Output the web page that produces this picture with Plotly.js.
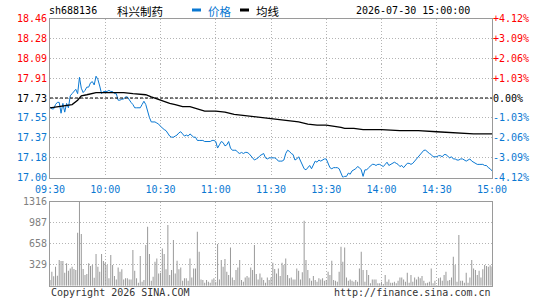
<!DOCTYPE html>
<html><head><meta charset="utf-8">
<script src="https://cdn.plot.ly/plotly-3.0.1.min.js"></script>
<style>html,body{margin:0;padding:0;background:#fff;}#chart{width:545px;height:300px;}</style>
</head><body><div id="chart"></div>
<script>
// ---- data ----
const stockCode = "sh688136";
const stockName = "科兴制药";
const dateTime = "2026-07-30 15:00:00";
const prevClose = 17.73;
const pctTicks = [-4.12, -3.09, -2.06, -1.03, 0, 1.03, 2.06, 3.09, 4.12];
const priceTickLabels = ["17.00","17.18","17.37","17.55","17.73","17.91","18.09","18.28","18.46"];
const pctTickLabels = ["-4.12%","-3.09%","-2.06%","-1.03%","0.00%","+1.03%","+2.06%","+3.09%","+4.12%"];
const timeTickLabels = ["09:30","10:00","10:30","11:00","11:30","13:30","14:00","14:30","15:00"];
const timeTickMinutes = [0,30,60,90,120,150,180,210,240];
const volTickVals = [329, 658, 987, 1316];
const volTickLabels = ["329","658","987","1316"];

const prices = [
17.65,17.63,17.63,17.67,17.69,17.69,17.59,17.68,17.60,17.68,
17.64,17.75,17.77,17.79,17.81,17.77,17.92,17.82,17.78,17.80,
17.83,17.83,17.87,17.88,17.85,17.93,17.90,17.84,17.77,17.79,
17.79,17.79,17.80,17.79,17.79,17.77,17.77,17.71,17.71,17.72,
17.72,17.74,17.74,17.71,17.69,17.67,17.64,17.64,17.64,17.64,
17.67,17.70,17.67,17.60,17.55,17.51,17.51,17.51,17.50,17.49,
17.47,17.45,17.44,17.43,17.40,17.38,17.37,17.37,17.38,17.39,
17.41,17.42,17.40,17.38,17.39,17.38,17.40,17.38,17.37,17.37,
17.34,17.34,17.34,17.34,17.33,17.33,17.33,17.33,17.34,17.34,
17.33,17.27,17.30,17.33,17.32,17.29,17.30,17.33,17.27,17.25,
17.25,17.25,17.23,17.22,17.23,17.22,17.23,17.23,17.22,17.20,
17.17,17.16,17.17,17.18,17.20,17.21,17.22,17.18,17.17,17.18,
17.18,17.18,17.18,17.17,17.15,17.15,17.15,17.16,17.22,17.25,
17.24,17.22,17.21,17.16,17.17,17.19,17.15,17.12,17.08,17.07,
17.09,17.11,17.08,17.11,17.15,17.14,17.16,17.15,17.16,17.17,
17.17,17.12,17.09,17.08,17.09,17.09,17.09,17.08,17.04,17.00,
17.01,17.01,17.04,17.03,17.06,17.07,17.08,17.10,17.09,17.07,
17.01,17.07,17.07,17.09,17.11,17.12,17.12,17.11,17.12,17.12,
17.11,17.10,17.12,17.14,17.11,17.12,17.13,17.14,17.13,17.12,
17.10,17.11,17.09,17.11,17.13,17.13,17.12,17.13,17.15,17.17,
17.19,17.21,17.23,17.25,17.25,17.23,17.22,17.21,17.19,17.19,
17.19,17.20,17.20,17.19,17.21,17.21,17.19,17.18,17.19,17.17,
17.17,17.16,17.16,17.17,17.17,17.16,17.15,17.16,17.17,17.15,
17.14,17.13,17.12,17.12,17.12,17.12,17.11,17.11,17.09,17.08,
17.06];

const avgMinutes = [0,5,12,15,17,20,25,30,40,45,52,55,58,62,65,68,72,76,80,84,90,95,100,105,110,115,120,125,130,135,140,145,150,155,158,160,165,170,180,190,200,210,220,230,240];
const avgPrices  = [17.64,17.65,17.67,17.71,17.75,17.76,17.78,17.78,17.78,17.77,17.76,17.74,17.72,17.70,17.68,17.67,17.65,17.65,17.63,17.61,17.61,17.60,17.58,17.57,17.56,17.55,17.54,17.53,17.52,17.51,17.49,17.48,17.48,17.47,17.46,17.45,17.45,17.44,17.44,17.43,17.43,17.42,17.41,17.40,17.40];

const volumes = [
89,219,150,298,157,402,386,386,204,350,
235,271,298,261,245,830,1316,809,261,167,
183,350,308,324,125,496,298,219,496,386,
360,324,115,480,324,151,99,287,219,256,
99,115,115,99,99,558,235,115,47,464,
62,89,637,924,496,78,141,376,428,193,
204,584,496,256,950,167,245,715,193,392,
256,287,78,115,115,78,428,130,271,271,
846,532,99,89,47,89,63,47,99,115,
63,652,99,402,298,418,219,167,600,130,
89,245,287,402,89,63,130,151,130,287,
245,637,183,99,193,130,89,47,130,89,
130,360,261,193,271,151,360,324,428,167,
115,130,99,99,271,235,99,209,1018,402,
245,115,78,151,89,63,115,99,115,78,
89,219,167,392,89,78,63,219,611,376,
600,130,78,99,78,63,89,63,271,532,
245,63,245,167,37,99,99,99,37,37,
63,26,167,63,99,47,47,63,37,78,
130,130,99,63,204,47,167,63,130,99,
141,115,151,78,37,47,63,271,37,78,
10,115,130,78,167,219,78,89,130,454,
324,63,793,78,78,47,204,47,130,402,
271,245,167,235,130,256,324,308,298,320,
300];

// ---- build ----
const minutes = prices.map((_, i) => i);
const volMinutes = volumes.map((_, i) => i);
const BLUE = "#0a78d2", RED = "#ff0000", GRID = "#b4b4b4", FRAME = "#9a9a9a";
const MONO = "DejaVu Sans Mono, monospace";
const tickPrices = pctTicks.map(p => prevClose * (1 + p / 100));
const colorFor = p => p > 0 ? RED : (p < 0 ? BLUE : "#000000");
const leftText = priceTickLabels.map((t, i) => `<span style="fill:${colorFor(pctTicks[i])}">${t}</span>`);
const rightText = pctTickLabels.map((t, i) => `<span style="fill:${colorFor(pctTicks[i])}">${t}</span>`);
const yRange = [tickPrices[0], tickPrices[tickPrices.length - 1]];

const X0 = 50 / 545, X1 = 492 / 545;
const px = v => v / 545, py = v => 1 - v / 300;

const traces = [
  {x: volMinutes, y: volumes, type: "bar", xaxis: "x2", yaxis: "y3", width: 0.55,
   marker: {color: "#9a9a9a", line: {width: 0}}, hoverinfo: "skip"},
  {x: minutes, y: prices, type: "scatter", mode: "lines", xaxis: "x", yaxis: "y",
   line: {color: BLUE, width: 1}, hoverinfo: "skip"},
  {x: avgMinutes, y: avgPrices, type: "scatter", mode: "lines", xaxis: "x", yaxis: "y2",
   line: {color: "#000000", width: 1.3}, hoverinfo: "skip"}
];

const gridCommon = {showgrid: true, gridcolor: GRID, griddash: "1px,2px", gridwidth: 1,
  zeroline: false, showline: true, mirror: true, linecolor: FRAME, linewidth: 1, ticks: "", fixedrange: true};

const layout = {
  width: 545, height: 300, margin: {l: 0, r: 0, t: 0, b: 0},
  paper_bgcolor: "#ffffff", plot_bgcolor: "#ffffff", showlegend: false,
  font: {family: MONO, size: 10, color: "#000"},
  xaxis: Object.assign({}, gridCommon, {domain: [X0, X1], range: [0, 240], anchor: "y",
    tickmode: "array", tickvals: timeTickMinutes, ticktext: timeTickLabels, ticklabelstandoff: 2,
    tickfont: {family: MONO, size: 10, color: BLUE}}),
  yaxis: Object.assign({}, gridCommon, {domain: [py(177.5), py(18.5)], range: yRange, anchor: "x",
    tickmode: "array", tickvals: tickPrices, ticktext: leftText,
    tickfont: {family: MONO, size: 10, color: "#000"}}),
  yaxis2: {overlaying: "y", side: "right", anchor: "x", range: yRange, showgrid: false, zeroline: false,
    showline: false, tickmode: "array", tickvals: tickPrices, ticktext: rightText, ticks: "",
    tickfont: {family: MONO, size: 10, color: "#000"}, fixedrange: true},
  xaxis2: Object.assign({}, gridCommon, {domain: [X0, X1], range: [0, 240], anchor: "y3",
    tickmode: "array", tickvals: timeTickMinutes, showticklabels: false}),
  yaxis3: Object.assign({}, gridCommon, {domain: [py(285.7), py(201.7)], range: [0, volTickVals[3]], anchor: "x2",
    tickmode: "array", tickvals: volTickVals, ticktext: volTickLabels,
    tickfont: {family: MONO, size: 10, color: "#808080"}}),
  shapes: [
    {type: "line", xref: "paper", yref: "y", x0: X0, x1: X1, y0: prevClose, y1: prevClose,
     line: {color: "#000", width: 1, dash: "3px,2px"}},
    {type: "rect", xref: "paper", yref: "paper", x0: px(192), x1: px(201), y0: py(11.5), y1: py(8.5),
     fillcolor: BLUE, line: {width: 0}},
    {type: "rect", xref: "paper", yref: "paper", x0: px(240), x1: px(249), y0: py(11.5), y1: py(8.5),
     fillcolor: "#000", line: {width: 0}}
  ],
  annotations: [
    {text: stockCode, xref: "paper", yref: "paper", x: px(47), y: py(11), xanchor: "left", yanchor: "middle", showarrow: false, font: {family: MONO, size: 10}},
    {text: stockName, xref: "paper", yref: "paper", x: px(115), y: py(11), xanchor: "left", yanchor: "middle", showarrow: false, font: {family: "Noto Sans CJK SC", size: 11.5}},
    {text: "价格", xref: "paper", yref: "paper", x: px(206), y: py(11), xanchor: "left", yanchor: "middle", showarrow: false, font: {family: "Noto Sans CJK SC", size: 11.5, color: BLUE}},
    {text: "均线", xref: "paper", yref: "paper", x: px(254), y: py(11), xanchor: "left", yanchor: "middle", showarrow: false, font: {family: "Noto Sans CJK SC", size: 11.5, color: "#000"}},
    {text: dateTime, xref: "paper", yref: "paper", x: px(472), y: py(11), xanchor: "right", yanchor: "middle", showarrow: false, font: {family: MONO, size: 10}},
    {text: "Copyright 2026 SINA.COM", xref: "paper", yref: "paper", x: px(49), y: py(292), xanchor: "left", yanchor: "middle", showarrow: false, font: {family: MONO, size: 10, color: "#333"}},
    {text: "http://finance.sina.com.cn", xref: "paper", yref: "paper", x: px(493), y: py(292), xanchor: "right", yanchor: "middle", showarrow: false, font: {family: MONO, size: 10, color: "#333"}}
  ]
};

Plotly.newPlot("chart", traces, layout, {staticPlot: true, displayModeBar: false});
</script></body></html>
